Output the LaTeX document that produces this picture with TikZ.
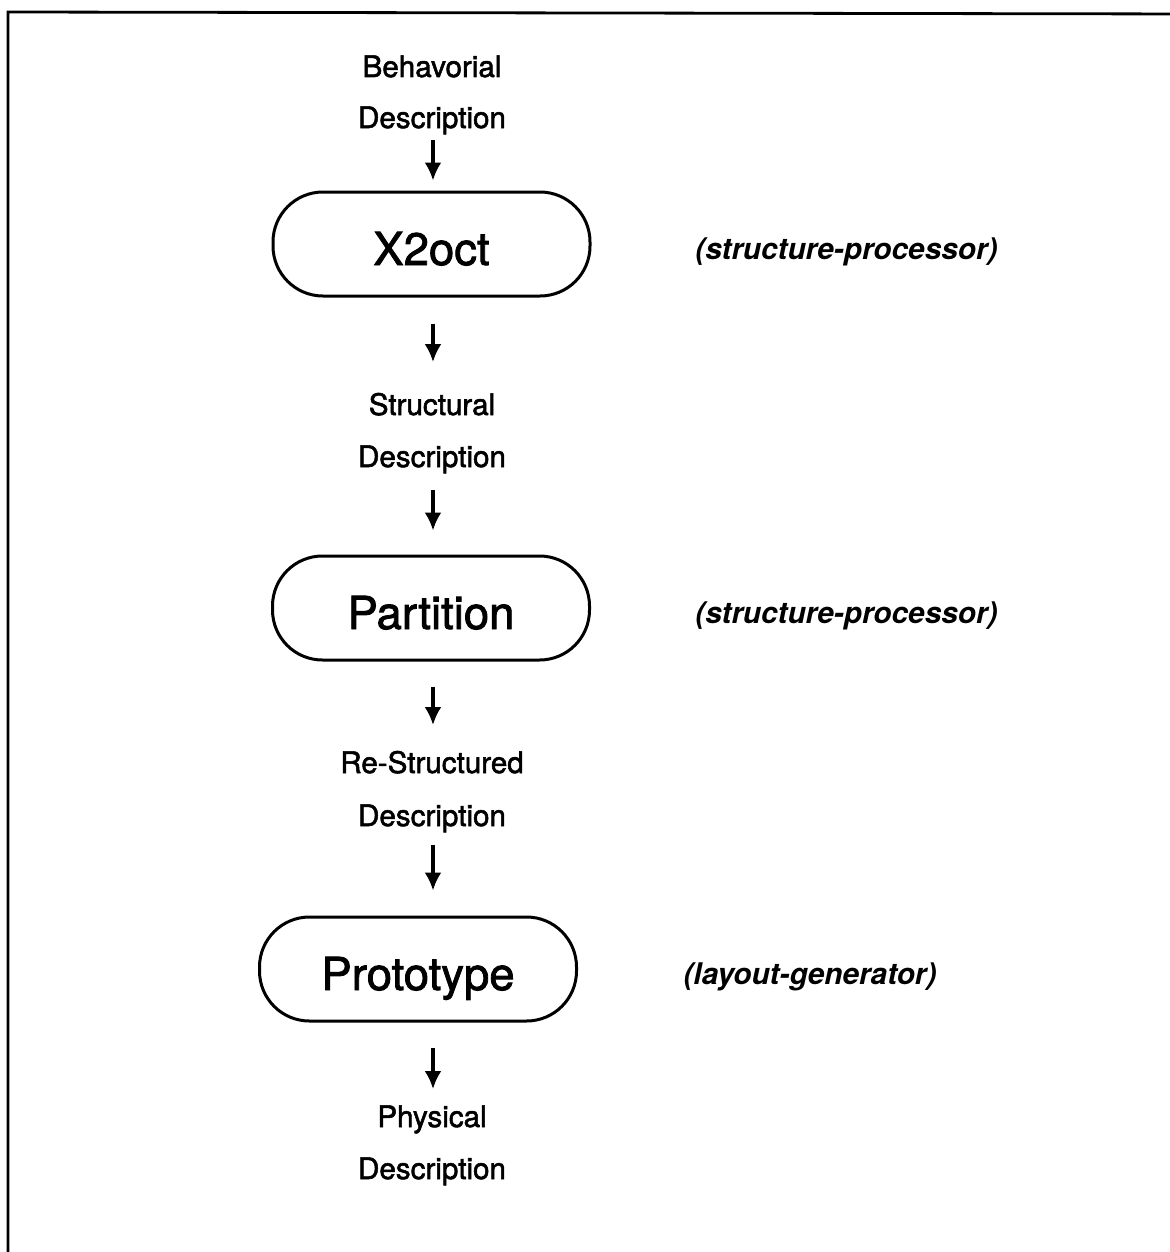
\documentclass[tikz,border=0pt]{standalone}
\usepackage{fontspec}
\setmainfont{TeX Gyre Heros}
\newfontfamily\heavysans[FakeBold=1.8]{TeX Gyre Heros}
\usetikzlibrary{arrows.meta,calc}

\begin{document}
\begin{tikzpicture}[x=0.5pt,y=-0.5pt,
  lab/.style={font=\heavysans\fontsize{14.8pt}{17pt}\selectfont, inner sep=0pt, anchor=base},
  note/.style={font=\fontsize{14.9pt}{17pt}\selectfont\bfseries\itshape, inner sep=0pt, anchor=base},
  tool/.style={draw, line width=1.5pt, rounded corners=25pt,
    minimum width=158.5pt, minimum height=52pt, inner sep=0pt,
    text height=21pt, text depth=0pt,
    font=\heavysans\fontsize{22.75pt}{26pt}\selectfont},
  flow/.style={line width=1.6pt, -{Latex[length=9pt,width=8.5pt]}}]

\useasboundingbox (0,0) rectangle (1170,1252);
\clip (0,0) rectangle (1170,1252);

% frame
\draw[line width=1.4pt] (1200,14) -- (8,12) -- (8,1280);

% data descriptions
\node[lab] (beh1) at (432,77) {Behavorial};
\node[lab] (beh2) at (432,128) {Description};
\node[lab] (st1) at (432,415) {Structural};
\node[lab] (st2) at (432,467) {Description};
\node[lab] (rs1) at (432,773) {Re-Structured};
\node[lab] (rs2) at (432,826) {Description};
\node[lab] (ph1) at (432,1127) {Physical};
\node[lab] (ph2) at (432,1179) {Description};

% tools
\node[tool] (x2oct) at (431.5,244) {X2oct};
\node[tool] (part)  at (431,608)   {Partition};
\node[tool] (proto) at (418,969)   {Prototype};

% tool classes
\node[note] (n1) at (846.5,259) {(structure-processor)};
\node[note] (n2) at (846.5,623) {(structure-processor)};
\node[note] (n3) at (810,984)   {(layout-generator)};

% flow arrows
\draw[flow] ($(beh2.base)+(1,12)$) -- ($(x2oct.north -| beh2.base)+(1,-10)$);
\draw[flow] ($(x2oct.south -| st1.base)+(1,26)$) -- ($(st1.base)+(1,-53)$);
\draw[flow] ($(st2.base)+(1,23)$) -- ($(part.north -| st2.base)+(1,-24)$);
\draw[flow] ($(part.south -| rs1.base)+(1,25)$) -- ($(rs1.base)+(1,-48)$);
\draw[flow] ($(rs2.base)+(1,19)$) -- ($(proto.north -| rs2.base)+(1,-25)$);
\draw[flow] ($(proto.south -| ph1.base)+(1,25)$) -- ($(ph1.base)+(1,-38)$);
\end{tikzpicture}
\end{document}
